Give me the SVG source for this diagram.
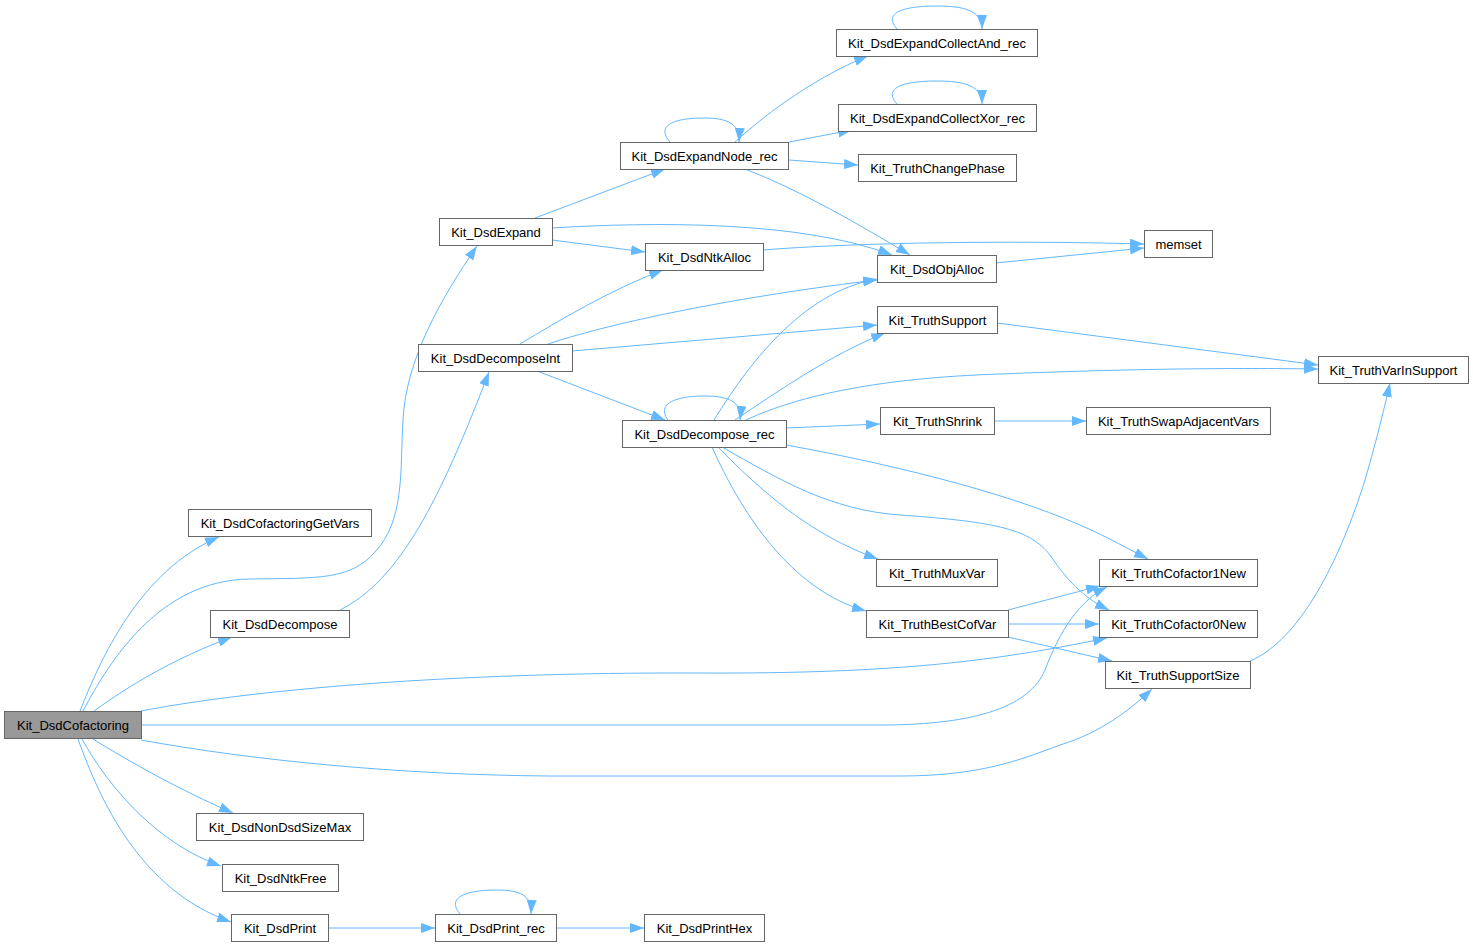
<svg xmlns="http://www.w3.org/2000/svg" width="1473" height="947" viewBox="0 0 1473 947">
<style>
.n rect{fill:#ffffff;stroke:#666666;stroke-width:1}
.n.h rect{fill:#999999}
.n text{font-family:"Liberation Sans",Arial,sans-serif;font-size:13px;fill:#000000;text-anchor:middle}
#edges path{fill:none;stroke:#63b8ff;stroke-width:1;marker-end:url(#arr)}
</style>
<defs>
<marker id="arr" markerUnits="userSpaceOnUse" markerWidth="16" markerHeight="12" refX="14" refY="5" orient="auto">
<path d="M0,0 L14,5 L0,10 z" fill="#63b8ff"/>
</marker>
</defs>
<rect width="1473" height="947" fill="#ffffff"/>
<g id="edges">
<path d="M80,711 C100,660 140,570 219,537"/>
<path d="M83,711 C110,660 160,580 250,579 C320,578 350,580 375,552 C405,520 400,470 403,420 C406,360 440,300 477,246"/>
<path d="M94,711 C130,685 175,658 232,637"/>
<path d="M141,711 C250,690 450,672 700,673 C900,674 1000,660 1107,638"/>
<path d="M141,725 L880,725 C980,725 1030,705 1045,670 C1060,630 1080,600 1107,587"/>
<path d="M141,740 C250,760 400,775 550,776 L900,776 C980,776 1020,760 1060,745 C1100,733 1130,710 1152,689"/>
<path d="M93,739 C130,762 180,790 233,813"/>
<path d="M82,739 C110,790 160,845 221,866"/>
<path d="M78,739 C100,800 140,890 231,922"/>
<path d="M340,610 C400,580 440,500 489,372"/>
<path d="M535,218 L665,169"/>
<path d="M552,240 L645,252"/>
<path d="M552,228 C650,222 800,220 892,255"/>
<path d="M520,344 C560,320 610,290 663,270"/>
<path d="M548,344 C620,320 750,295 877,280"/>
<path d="M572,351 L877,325"/>
<path d="M537,371 L665,420"/>
<path d="M670,142 C655,125 675,118 704,118 C728,118 740,124 739,142"/>
<path d="M735,142 C770,110 820,75 868,56"/>
<path d="M789,142 L852,130"/>
<path d="M789,160 L858,165"/>
<path d="M745,169 C800,190 860,225 910,255"/>
<path d="M897,29 C882,12 905,6 937,6 C965,6 982,11 982,29"/>
<path d="M897,104 C882,87 905,81 937,81 C965,81 982,86 982,104"/>
<path d="M763,250 C850,243 1000,240 1144,244"/>
<path d="M996,263 L1144,248"/>
<path d="M997,323 L1318,365"/>
<path d="M668,420 C655,402 680,396 704,396 C728,396 742,401 740,420"/>
<path d="M714,420 C745,370 800,292 877,279"/>
<path d="M735,420 C780,390 830,355 885,333"/>
<path d="M746,420 C800,395 880,378 1000,374 C1150,368 1250,368 1318,369"/>
<path d="M786,428 L880,424"/>
<path d="M786,445 C880,462 1000,490 1080,525 C1110,538 1130,550 1148,559"/>
<path d="M722,447 C780,480 830,510 900,515 C1000,522 1030,530 1050,555 C1070,585 1088,600 1109,610"/>
<path d="M718,447 C760,490 810,535 878,559"/>
<path d="M712,447 C740,510 790,590 866,611"/>
<path d="M994,421 L1086,421"/>
<path d="M1008,610 L1100,586"/>
<path d="M1008,624 L1099,624"/>
<path d="M1008,637 L1112,661"/>
<path d="M1250,661 C1300,640 1340,560 1365,480 C1378,435 1385,405 1390,383"/>
<path d="M328,928 L435,928"/>
<path d="M460,914 C445,896 470,890 496,890 C520,890 532,895 531,914"/>
<path d="M556,928 L644,928"/>
</g>
<g id="Kit_DsdCofactoring" class="n h"><rect x="4.5" y="711.5" width="137" height="27"/><text x="73" y="729.5">Kit_DsdCofactoring</text></g>
<g id="Kit_DsdCofactoringGetVars" class="n"><rect x="188.5" y="509.5" width="183" height="27"/><text x="280" y="527.5">Kit_DsdCofactoringGetVars</text></g>
<g id="Kit_DsdDecompose" class="n"><rect x="210.5" y="610.5" width="139" height="27"/><text x="280" y="628.5">Kit_DsdDecompose</text></g>
<g id="Kit_DsdNonDsdSizeMax" class="n"><rect x="196.5" y="813.5" width="167" height="27"/><text x="280" y="831.5">Kit_DsdNonDsdSizeMax</text></g>
<g id="Kit_DsdNtkFree" class="n"><rect x="222.5" y="864.5" width="116" height="27"/><text x="280.5" y="882.5">Kit_DsdNtkFree</text></g>
<g id="Kit_DsdPrint" class="n"><rect x="231.5" y="914.5" width="97" height="27"/><text x="280" y="932.5">Kit_DsdPrint</text></g>
<g id="Kit_DsdPrint_rec" class="n"><rect x="435.5" y="914.5" width="121" height="27"/><text x="496" y="932.5">Kit_DsdPrint_rec</text></g>
<g id="Kit_DsdPrintHex" class="n"><rect x="644.5" y="914.5" width="120" height="27"/><text x="704.5" y="932.5">Kit_DsdPrintHex</text></g>
<g id="Kit_DsdExpand" class="n"><rect x="439.5" y="218.5" width="113" height="27"/><text x="496" y="236.5">Kit_DsdExpand</text></g>
<g id="Kit_DsdDecomposeInt" class="n"><rect x="418.5" y="344.5" width="154" height="27"/><text x="495.5" y="362.5">Kit_DsdDecomposeInt</text></g>
<g id="Kit_DsdExpandNode_rec" class="n"><rect x="620.5" y="142.5" width="168" height="27"/><text x="704.5" y="160.5">Kit_DsdExpandNode_rec</text></g>
<g id="Kit_DsdNtkAlloc" class="n"><rect x="645.5" y="243.5" width="118" height="27"/><text x="704.5" y="261.5">Kit_DsdNtkAlloc</text></g>
<g id="Kit_DsdDecompose_rec" class="n"><rect x="622.5" y="420.5" width="164" height="27"/><text x="704.5" y="438.5">Kit_DsdDecompose_rec</text></g>
<g id="Kit_DsdExpandCollectAnd_rec" class="n"><rect x="836.5" y="29.5" width="201" height="27"/><text x="937" y="47.5">Kit_DsdExpandCollectAnd_rec</text></g>
<g id="Kit_DsdExpandCollectXor_rec" class="n"><rect x="838.5" y="104.5" width="198" height="27"/><text x="937.5" y="122.5">Kit_DsdExpandCollectXor_rec</text></g>
<g id="Kit_TruthChangePhase" class="n"><rect x="858.5" y="154.5" width="158" height="27"/><text x="937.5" y="172.5">Kit_TruthChangePhase</text></g>
<g id="memset" class="n"><rect x="1144.5" y="230.5" width="68" height="27"/><text x="1178.5" y="248.5">memset</text></g>
<g id="Kit_DsdObjAlloc" class="n"><rect x="877.5" y="255.5" width="119" height="27"/><text x="937" y="273.5">Kit_DsdObjAlloc</text></g>
<g id="Kit_TruthSupport" class="n"><rect x="877.5" y="306.5" width="120" height="27"/><text x="937.5" y="324.5">Kit_TruthSupport</text></g>
<g id="Kit_TruthVarInSupport" class="n"><rect x="1318.5" y="356.5" width="150" height="27"/><text x="1393.5" y="374.5">Kit_TruthVarInSupport</text></g>
<g id="Kit_TruthShrink" class="n"><rect x="880.5" y="407.5" width="114" height="27"/><text x="937.5" y="425.5">Kit_TruthShrink</text></g>
<g id="Kit_TruthSwapAdjacentVars" class="n"><rect x="1086.5" y="407.5" width="184" height="27"/><text x="1178.5" y="425.5">Kit_TruthSwapAdjacentVars</text></g>
<g id="Kit_TruthMuxVar" class="n"><rect x="876.5" y="559.5" width="121" height="27"/><text x="937" y="577.5">Kit_TruthMuxVar</text></g>
<g id="Kit_TruthBestCofVar" class="n"><rect x="866.5" y="610.5" width="142" height="27"/><text x="937.5" y="628.5">Kit_TruthBestCofVar</text></g>
<g id="Kit_TruthCofactor1New" class="n"><rect x="1099.5" y="559.5" width="158" height="27"/><text x="1178.5" y="577.5">Kit_TruthCofactor1New</text></g>
<g id="Kit_TruthCofactor0New" class="n"><rect x="1099.5" y="610.5" width="158" height="27"/><text x="1178.5" y="628.5">Kit_TruthCofactor0New</text></g>
<g id="Kit_TruthSupportSize" class="n"><rect x="1105.5" y="661.5" width="145" height="27"/><text x="1178" y="679.5">Kit_TruthSupportSize</text></g>
</svg>
